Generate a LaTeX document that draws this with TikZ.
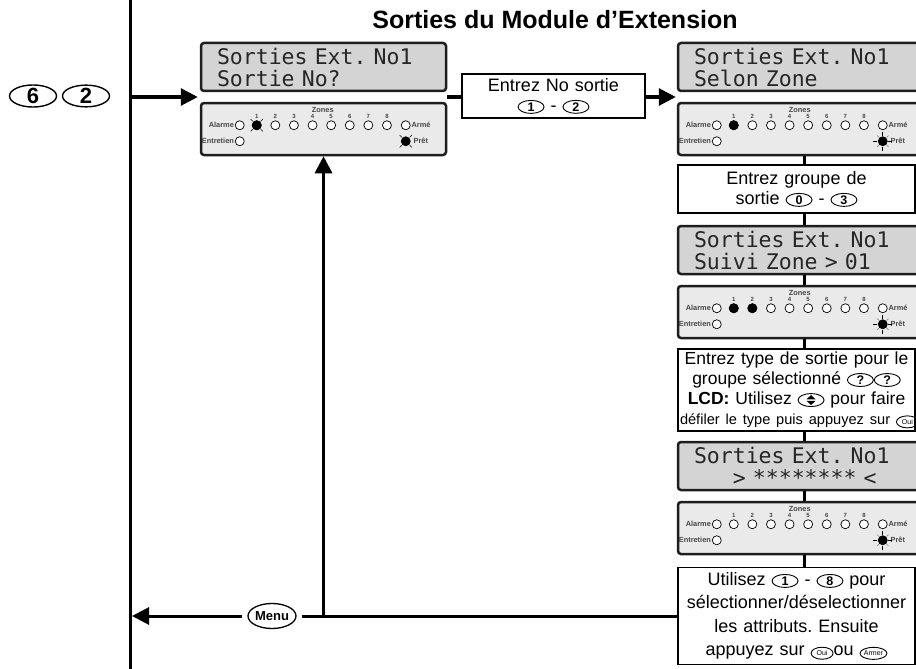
\documentclass[tikz,border=0pt]{standalone}
\usepackage{fontspec}
\setmainfont{Liberation Sans}
\newfontfamily\lcdfont{DejaVu Sans Mono}[WordSpace={1,0,0}]
\usepackage{tikz}
\usetikzlibrary{shapes.geometric, positioning, arrows.meta, calc}
\definecolor{LCDGray}{RGB}{212,212,212}
\definecolor{PanelGray}{RGB}{234,234,234}
\definecolor{EdgeDark}{RGB}{30,30,30}
\definecolor{TagGray}{RGB}{70,70,70}

\tikzset{
  smallkey/.style={ellipse, draw, line width=0.9pt, minimum width=26pt,
                   minimum height=13pt, inner sep=0pt,
                   font=\bfseries\fontsize{12.5}{12.5}\selectfont},
  tinykey/.style={smallkey, minimum width=22pt, minimum height=12pt,
                  font=\fontsize{7}{7}\selectfont}
}
\newcommand{\kb}[1]{\tikz[baseline=(k.base)]\node[smallkey](k){#1};}
\newcommand{\kbt}[1]{\tikz[baseline=(k.base)]\node[tinykey](k){#1};}
\newcommand{\kbud}{\tikz[baseline=(k.base), x=1pt, y=1pt]{%
  \node[smallkey](k){\phantom{8}};
  \fill (k.center) ++(-4.5,0.8) -- ++(9,0) -- ++(-4.5,4.2) -- cycle;
  \fill (k.center) ++(-4.5,-0.8) -- ++(9,0) -- ++(-4.5,-4.2) -- cycle;}}

% zone lights of one keypad
\newcommand{\ledrow}[1]{%
  \begin{scope}[shift={(#1.north west)}]
    \node[tag] (#1zn) at (123,8) {Zones};
    \foreach \i in {1,...,8} {
      \node[tag, font=\bfseries\fontsize{6}{6}\selectfont] (#1n\i)
            at ({57+18.6*(\i-1)},15) {\i};
      \node[led] (#1z\i) at ({57+18.6*(\i-1)},23.5) {};
    }
    \node[led] (#1al) at (40,23.5) {};
    \node[led] (#1ar) at (206,23.5) {};
    \node[led] (#1en) at (40,39.5) {};
    \node[led, fill=black] (#1pr) at (206,39.5) {};
    \node[tag, anchor=east] (#1alt) at (#1al.west) {Alarme};
    \node[tag, anchor=west] (#1art) at (#1ar.east) {Armé};
    \node[tag, anchor=east] (#1ent) at (#1en.west) {Entretien};
    \node[tag, anchor=west] (#1prt) at ([xshift=2pt]#1pr.east) {Prêt};
  \end{scope}}
\newcommand{\blinkx}[1]{%
  \foreach \a in {45,135,225,315}
    \draw[ray] ($(#1)+(\a:5.5)$) -- ($(#1)+(\a:8.5)$);}
\newcommand{\blinkstar}[1]{%
  \foreach \a in {0,90,180,270}
    \draw[ray] ($(#1)+(\a:5.5)$) -- ($(#1)+(\a:9.5)$);
  \foreach \a in {45,135,225,315}
    \draw[ray, black!45] ($(#1)+(\a:5.5)$) -- ($(#1)+(\a:8)$);}

\begin{document}
\frenchspacing
\begin{tikzpicture}[x=1pt, y=-1pt,
    lcd/.style={rectangle, draw=EdgeDark, line width=2.5pt, fill=LCDGray,
                rounded corners=3pt, minimum width=245pt, minimum height=48pt,
                inner sep=0pt, text width=213pt, align=left, text=black!85,
                font=\lcdfont\fontsize{21.5}{22}\selectfont},
    panel/.style={rectangle, draw=EdgeDark, line width=2.5pt, fill=PanelGray,
                  rounded corners=3pt, minimum width=245pt, minimum height=52pt,
                  inner sep=0pt},
    note/.style={rectangle, draw, line width=1.1pt, fill=white, inner sep=2pt,
                 text width=233pt, align=center,
                 font=\fontsize{18}{20}\selectfont},
    led/.style={circle, draw, line width=0.7pt, fill=white, minimum size=9pt,
                inner sep=0pt},
    tag/.style={font=\bfseries\fontsize{7.4}{8}\selectfont, text=TagGray,
                inner sep=0.8pt},
    bigkey/.style={ellipse, draw, line width=1.4pt, minimum width=47pt,
                   minimum height=21pt, inner sep=0pt,
                   font=\bfseries\fontsize{22}{22}\selectfont},
    wire/.style={line width=3pt},
    arr/.style={line width=3pt, -{Triangle[length=17pt, width=17pt]}},
    ray/.style={line width=0.7pt}
  ]
  \useasboundingbox (0,0) rectangle (916,669);
  \clip (0,0) rectangle (916,669);

  \node[font=\bfseries\fontsize{25}{28}\selectfont] (title) at (555,20)
        {Sorties du Module d’Extension};

  % entry keys and rail
  \node[bigkey] (k6) at (33,96) {6};
  \node[bigkey] (k2) at (86,96) {2};
  \coordinate (railtop) at (130,-5);
  \coordinate (railbot) at (130,675);
  \draw[wire] (railtop) -- (railbot);

  % first keypad (left)
  \node[lcd] (lcdA) at (323.5,67) {Sorties Ext. No1\\Sortie No?};
  \node[panel] (ledA) at (323.5,129) {};
  \ledrow{ledA}
  \node[led, fill=black] (ledAon1) at (ledAz1) {};
  \blinkx{ledAz1}
  \blinkx{ledApr}

  \node[note, text width=179pt, minimum height=44pt] (num) at (553.5,96)
        {Entrez No sortie\\\kb{1} - \kb{2}};

  % right column
  \node[lcd] (lcdB) at (800.5,67) {Sorties Ext. No1\\Selon Zone};
  \node[panel] (ledB) at (800.5,129) {};
  \ledrow{ledB}
  \node[led, fill=black] (ledBon1) at (ledBz1) {};
  \blinkstar{ledBpr}

  \node[note, minimum height=48pt] (grp) at (796.5,189)
        {Entrez groupe de\\sortie \kb{0} - \kb{3}};

  \node[lcd] (lcdC) at (800.5,250) {Sorties Ext. No1\\Suivi Zone > 01};
  \node[panel] (ledC) at (800.5,312) {};
  \ledrow{ledC}
  \node[led, fill=black] (ledCon1) at (ledCz1) {};
  \node[led, fill=black] (ledCon2) at (ledCz2) {};
  \blinkstar{ledCpr}

  \node[note, minimum height=82pt, font=\fontsize{17.5}{20}\selectfont] (typ)
        at (796.5,390)
        {Entrez type de sortie pour le\\
         groupe sélectionné \kb{?}\kb{?}\\
         \textbf{LCD:} Utilisez \kbud{} pour faire\\
         \mbox{\fontsize{14.6}{19}\selectfont défiler le type puis appuyez sur \kbt{Oui}}};

  \node[lcd] (lcdD) at (800.5,466)
        {Sorties Ext. No1\\\phantom{>>>}> ******** <};
  \node[panel] (ledD) at (800.5,528) {};
  \ledrow{ledD}
  \blinkstar{ledDpr}

  \node[note, minimum height=97pt, font=\fontsize{18}{23.5}\selectfont] (att)
        at (796.5,616)
        {Utilisez \kb{1} - \kb{8} pour\\sélectionner/déselectionner\\
         les attributs. Ensuite\\appuyez sur \kbt{Oui}ou \kbt{Armer}};

  % connectors
  \coordinate (gapA) at ($(lcdA.south west)!.5!(ledA.north west)$);
  \coordinate (gapAe) at ($(lcdA.south east)!.5!(ledA.north east)$);
  \coordinate (gapB) at ($(lcdB.south west)!.5!(ledB.north west)$);
  \draw[arr] (railtop |- gapA) -- ($(gapA)+(-2,0)$);
  \draw[wire] (gapAe) -- (gapAe -| num.west);
  \draw[arr] (num.east |- gapB) -- ($(gapB)+(-1,0)$);

  \coordinate (spine) at (804,0);
  \foreach \a/\b in {ledB/grp, grp/lcdC, lcdC/ledC, ledC/typ,
                     typ/lcdD, lcdD/ledD, ledD/att}
    \draw[wire] (\a.south -| spine) -- (\b.north -| spine);

  % back to menu
  \node[ellipse, draw, line width=1.3pt, minimum width=48pt, minimum height=25pt,
        inner sep=0pt, outer sep=6pt, font=\bfseries\fontsize{13}{13}\selectfont]
        (menu) at (272,616) {Menu};
  \coordinate (jct) at (ledA.south |- att.west);
  \draw[wire] (att.west) -- (jct) -- (menu.east |- jct);
  \draw[arr] (jct) -- (jct |- ledA.south);
  \draw[arr] (menu.west) -- ($(railtop |- menu.west)+(2,0)$);
\end{tikzpicture}
\end{document}
